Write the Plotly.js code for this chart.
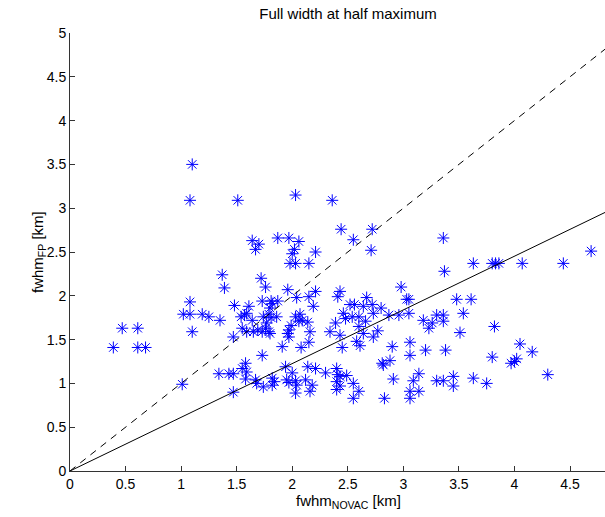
<!DOCTYPE html>
<html>
<head>
<meta charset="utf-8">
<script src="https://cdn.plot.ly/plotly-3.0.1.min.js"></script>
<style>html,body{margin:0;padding:0;background:#fff;}#chart{width:605px;height:517px;}</style>
</head>
<body>
<div id="chart"></div>
<script>
// fwhm_NOVAC [km]
var xNovac = [1.10,1.08,1.51,1.37,1.39,1.08,1.02,1.08,1.19,1.25,1.35,1.10,0.47,0.61,0.39,0.61,0.68,1.01,1.34,1.43,
  1.47,1.47,1.47,1.48,2.03,2.36,2.44,1.64,1.70,1.67,1.87,1.97,2.06,2.02,2.00,2.21,1.98,2.03,2.15,1.72,
  1.76,1.96,2.21,2.43,2.41,2.04,2.15,1.73,1.81,1.87,1.61,2.19,1.54,1.57,1.59,1.64,1.55,1.59,1.65,1.74,
  1.79,1.81,1.86,1.77,1.76,1.79,1.80,1.73,1.69,1.82,1.80,1.96,1.97,1.97,1.99,2.03,2.07,2.09,2.06,2.14,
  2.16,2.15,2.08,1.91,1.73,2.46,2.48,2.39,2.34,2.43,2.45,2.52,1.55,1.58,1.59,1.58,1.67,1.68,1.74,1.82,
  1.84,1.82,1.94,2.00,1.95,1.97,2.03,2.04,2.03,2.12,2.14,2.21,2.18,2.16,2.30,2.40,2.41,2.43,2.40,2.43,
  2.40,2.49,2.72,2.55,2.71,3.36,3.37,3.63,2.98,3.03,3.05,3.48,3.61,2.67,2.56,2.64,2.72,2.80,2.73,2.87,
  2.96,3.05,3.30,3.36,3.54,2.54,2.60,2.66,2.60,2.77,2.64,2.73,2.58,2.61,3.18,3.26,3.36,3.23,3.51,2.90,
  3.06,3.06,3.20,3.38,2.81,2.82,2.88,2.55,2.60,2.55,2.83,2.91,3.14,3.09,3.06,3.14,3.06,3.30,3.36,3.45,
  3.45,3.80,3.83,3.86,4.07,4.44,4.69,3.82,4.05,4.16,3.80,4.02,4.00,3.97,3.63,3.75,4.30];
// fwhm_FP [km]
var yFP = [3.50,3.09,3.09,2.24,2.09,1.93,1.79,1.79,1.79,1.76,1.72,1.59,1.63,1.63,1.41,1.41,1.41,0.99,1.11,1.11,
  1.11,0.90,1.53,1.89,3.15,3.09,2.76,2.63,2.59,2.53,2.66,2.66,2.62,2.53,2.48,2.50,2.37,2.37,2.37,2.20,
  2.10,2.07,2.05,2.05,1.99,1.98,1.99,1.94,1.94,1.94,1.88,1.88,1.76,1.78,1.80,1.72,1.63,1.59,1.59,1.76,
  1.79,1.75,1.76,1.69,1.63,1.59,1.57,1.59,1.61,1.91,1.86,1.57,1.61,1.53,1.66,1.76,1.79,1.72,1.71,1.70,
  1.59,1.47,1.41,1.42,1.32,1.80,1.74,1.69,1.59,1.55,1.41,1.90,1.17,1.23,1.13,1.05,1.04,1.00,0.96,1.06,
  1.02,0.98,1.19,1.12,1.04,1.01,1.03,0.98,0.89,1.04,1.19,1.17,0.98,0.91,1.12,1.17,1.10,1.08,1.02,0.97,
  0.93,1.09,2.76,2.64,2.52,2.66,2.28,2.37,2.10,1.96,1.96,1.96,1.96,1.98,1.90,1.88,1.90,1.86,1.80,1.78,
  1.78,1.80,1.78,1.78,1.80,1.76,1.76,1.71,1.65,1.60,1.57,1.53,1.48,1.43,1.72,1.69,1.71,1.63,1.58,1.42,
  1.47,1.32,1.38,1.38,1.23,1.21,1.26,1.00,0.91,0.83,0.83,1.05,1.11,1.03,0.91,0.91,0.83,1.03,1.03,1.08,
  0.97,2.37,2.37,2.37,2.37,2.37,2.51,1.65,1.45,1.36,1.30,1.28,1.25,1.23,1.06,1.00,1.10];

var lineX = [0, 5];
var identityY = [0, 5];
var fitSlope = 0.613;
var fitY = lineX.map(function(v){ return v * fitSlope; });

var xTicks = [0,0.5,1,1.5,2,2.5,3,3.5,4,4.5];
var yTicks = [0,0.5,1,1.5,2,2.5,3,3.5,4,4.5,5];

var FONT = 'Liberation Sans, Arial, Helvetica, sans-serif';

var traces = [
  {x: xNovac, y: yFP, type: 'scatter', mode: 'markers',
   marker: {symbol: 'asterisk-open', size: 10, color: 'rgb(0,0,255)', line: {color: 'rgb(0,0,255)', width: 1}},
   hoverinfo: 'x+y', showlegend: false},
  {x: lineX, y: identityY, type: 'scatter', mode: 'lines',
   line: {color: '#000', width: 1, dash: '7px,6px'}, showlegend: false},
  {x: lineX, y: fitY, type: 'scatter', mode: 'lines',
   line: {color: '#000', width: 1}, showlegend: false}
];

var layout = {
  width: 605, height: 517,
  margin: {l: 70, r: 0, t: 33, b: 46, pad: 0},
  paper_bgcolor: '#fff', plot_bgcolor: '#fff',
  font: {family: FONT, size: 14, color: '#000'},
  title: {text: 'Full width at half maximum', font: {family: FONT, size: 15, color: '#000'},
          xref: 'container', x: 348/605, xanchor: 'center', yref: 'container', y: 1 - 14/517, yanchor: 'middle'},
  xaxis: {range: [0, 4.815], tickvals: xTicks, ticktext: xTicks.map(String), ticks: 'inside', ticklen: 5,
          tickcolor: '#333', showline: true, linecolor: '#333', linewidth: 1, showgrid: false, zeroline: false,
          tickfont: {family: FONT, size: 14, color: '#000'}, mirror: false},
  yaxis: {range: [0, 5], tickvals: yTicks, ticktext: yTicks.map(String), ticks: 'inside', ticklen: 5,
          tickcolor: '#333', showline: true, linecolor: '#333', linewidth: 1, showgrid: false, zeroline: false,
          tickfont: {family: FONT, size: 14, color: '#000'}, mirror: false},
  annotations: [
    {text: 'fwhm<sub>NOVAC</sub> [km]', xref: 'paper', yref: 'paper', x: (348-70)/535, y: -(490-471)/438,
     xanchor: 'center', yanchor: 'top', showarrow: false, font: {family: FONT, size: 15, color: '#000'}},
    {text: 'fwhm<sub>FP</sub> [km]', xref: 'paper', yref: 'paper', x: -(70-38)/535, y: 0.5, textangle: -90,
     xanchor: 'center', yanchor: 'middle', showarrow: false, font: {family: FONT, size: 15, color: '#000'}}
  ]
};

Plotly.newPlot('chart', traces, layout, {displayModeBar: false, staticPlot: true});
</script>
</body>
</html>
